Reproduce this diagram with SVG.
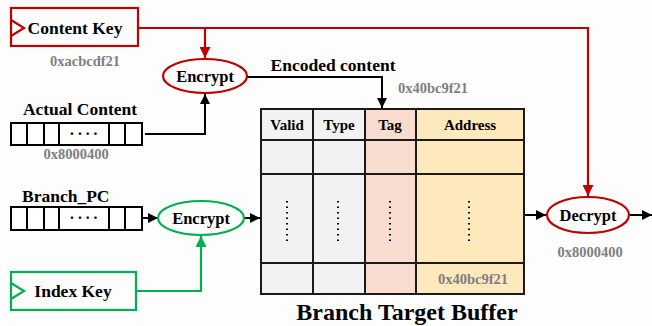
<svg xmlns="http://www.w3.org/2000/svg" width="652" height="326" viewBox="0 0 652 326">
  <style>
    text { font-family: "Liberation Serif", "Times New Roman", serif; font-weight: bold; }
    .lbl { font-size: 17.5px; fill: #000; }
    .hex { font-size: 14.5px; fill: #7f7f7f; }
    .hdr { font-size: 15px; fill: #000; }
    .ell { font-size: 16.5px; fill: #000; }
    .red { stroke: #c00000; stroke-width: 2.2; fill: none; }
    .grn { stroke: #00b050; stroke-width: 2.2; fill: none; }
    .blk { stroke: #000; stroke-width: 2; fill: none; }
    .cell { stroke: #000; stroke-width: 2; fill: #fff; }
    .grid { stroke: #1a1a1a; stroke-width: 2; fill: none; }
    .dots { stroke: #000; stroke-width: 2; stroke-dasharray: 1.5 4; }
    .rdots { font-size: 16px; letter-spacing: 2.5px; fill: #000; }
  </style>
  <defs>
    <marker id="ahBlk" viewBox="0 0 10 10" refX="10" refY="5" markerWidth="6" markerHeight="5" orient="auto" markerUnits="strokeWidth">
      <path d="M0,0 L10,5 L0,10 z" fill="#000"/>
    </marker>
    <marker id="ahRed" viewBox="0 0 10 10" refX="10" refY="5" markerWidth="6" markerHeight="5" orient="auto" markerUnits="strokeWidth">
      <path d="M0,0 L10,5 L0,10 z" fill="#c00000"/>
    </marker>
    <marker id="ahGrn" viewBox="0 0 10 10" refX="10" refY="5" markerWidth="6" markerHeight="5" orient="auto" markerUnits="strokeWidth">
      <path d="M0,0 L10,5 L0,10 z" fill="#00b050"/>
    </marker>
  </defs>
  <rect width="652" height="326" fill="#fdfdfd"/>

  <!-- connectors -->
  <g id="connectors">
    <path class="red" d="M138,28 H588 V196" marker-end="url(#ahRed)"/>
    <path class="red" d="M205,28 V58" marker-end="url(#ahRed)"/>
    <path class="blk" d="M145,134 H205 V94" marker-end="url(#ahBlk)"/>
    <path class="blk" d="M247,77 H382 V108" marker-end="url(#ahBlk)"/>
    <path class="blk" d="M142,218 H158" marker-end="url(#ahBlk)"/>
    <path class="blk" d="M244,218 H260" marker-end="url(#ahBlk)"/>
    <path class="grn" d="M136,291 H201 V236" marker-end="url(#ahGrn)"/>
    <path class="blk" d="M524,215 H546" marker-end="url(#ahBlk)"/>
    <path class="blk" d="M630,215 H652" marker-end="url(#ahBlk)"/>
  </g>

  <!-- content key -->
  <g id="content-key">
    <rect x="11" y="8" width="127" height="38" class="red" fill="#fff"/>
    <path class="red" d="M11,20 L24,28 L11,36"/>
    <text class="lbl" x="75" y="34" text-anchor="middle">Content Key</text>
    <text class="hex" x="85" y="66" text-anchor="middle">0xacbcdf21</text>
  </g>

  <!-- index key -->
  <g id="index-key">
    <rect x="11" y="272" width="125" height="38" class="grn" fill="#fff"/>
    <path class="grn" d="M11,283 L24,291 L11,299"/>
    <text class="lbl" x="73" y="297" text-anchor="middle">Index Key</text>
  </g>

  <!-- encrypt (content) -->
  <g id="encrypt-content">
    <ellipse cx="205" cy="76" rx="42" ry="17" class="red" fill="#fff"/>
    <text class="ell" x="205" y="82" text-anchor="middle">Encrypt</text>
  </g>

  <!-- encrypt (index) -->
  <g id="encrypt-index">
    <ellipse cx="201" cy="218" rx="43" ry="17" class="grn" fill="#fff"/>
    <text class="ell" x="201" y="224" text-anchor="middle">Encrypt</text>
  </g>

  <!-- decrypt -->
  <g id="decrypt">
    <ellipse cx="588" cy="215" rx="41" ry="18" class="red" fill="#fff"/>
    <text class="ell" x="588" y="221" text-anchor="middle">Decrypt</text>
    <text class="hex" x="590" y="257" text-anchor="middle">0x8000400</text>
  </g>

  <!-- actual content register -->
  <g id="actual-content">
    <text class="lbl" x="80" y="115" text-anchor="middle">Actual Content</text>
    <rect x="11" y="123" width="131" height="22" class="cell"/>
    <path class="blk" d="M27,123 V145 M44,123 V145 M59,123 V145 M109,123 V145 M125,123 V145"/>
    <text class="rdots" x="85" y="139" text-anchor="middle">····</text>
    <text class="hex" x="76" y="159" text-anchor="middle">0x8000400</text>
  </g>

  <!-- branch pc register -->
  <g id="branch-pc">
    <text class="lbl" x="22" y="202">Branch_PC</text>
    <rect x="11" y="207" width="131" height="23" class="cell"/>
    <path class="blk" d="M27,207 V230 M44,207 V230 M59,207 V230 M109,207 V230 M125,207 V230"/>
    <text class="rdots" x="85" y="223" text-anchor="middle">····</text>
  </g>

  <!-- encoded content label -->
  <g id="encoded-label">
    <text class="lbl" x="333" y="71" text-anchor="middle">Encoded content</text>
    <text class="hex" x="433" y="93" text-anchor="middle">0x40bc9f21</text>
  </g>

  <!-- branch target buffer -->
  <g id="btb">
    <rect x="261" y="109" width="104" height="185" fill="#f2f2f2"/>
    <rect x="365" y="109" width="51" height="185" fill="#f9dcd0"/>
    <rect x="416" y="109" width="108" height="185" fill="#fde9bb"/>
    <rect x="261" y="109" width="263" height="185" class="grid"/>
    <path class="grid" d="M313,109 V294 M365,109 V294 M416,109 V294 M261,140 H524 M261,174 H524 M261,263 H524"/>
    <text class="hdr" x="287" y="130" text-anchor="middle">Valid</text>
    <text class="hdr" x="339" y="130" text-anchor="middle">Type</text>
    <text class="hdr" x="390" y="130" text-anchor="middle">Tag</text>
    <text class="hdr" x="470" y="130" text-anchor="middle">Address</text>
    <path class="dots" d="M287,201 V244 M338,201 V244 M390,201 V244 M469,201 V244"/>
    <text class="hex" x="473" y="284" text-anchor="middle">0x40bc9f21</text>
    <text x="407" y="320" text-anchor="middle" font-size="24" fill="#000">Branch Target Buffer</text>
  </g>
</svg>
